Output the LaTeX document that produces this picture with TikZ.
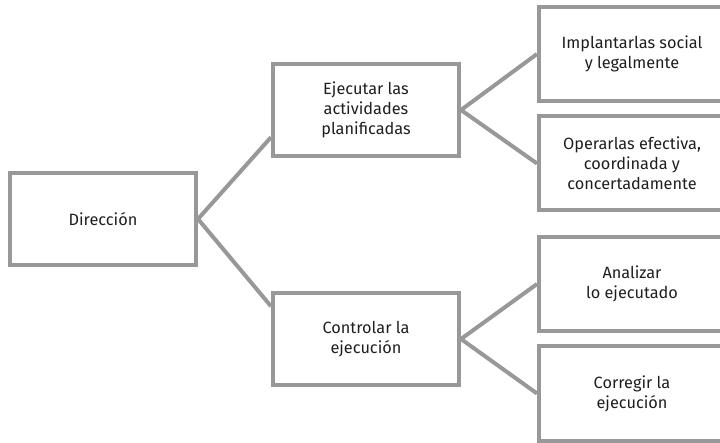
\documentclass[tikz,border=0pt]{standalone}
\usepackage{fontspec}
\setmainfont{Fira Sans}
\definecolor{boxgray}{RGB}{152,152,154}
\definecolor{txtgray}{RGB}{30,30,30}
\tikzset{
  box/.style={draw=boxgray, line width=4pt, minimum width=186pt, minimum height=92pt,
    align=center, text=txtgray, font=\fontsize{16.3}{20}\selectfont},
  leaf/.style={box, minimum height=94pt},
  link/.style={draw=boxgray, line width=4pt}
}
\begin{document}
\begin{tikzpicture}[x=1pt, y=-1pt]
		\useasboundingbox (0,0) rectangle (720,443);
		\clip (0,0) rectangle (720,443);
		\node[box] (D) at (103,219) {Dirección};
		\node[box] (E) at (366,110) {Ejecutar las\\actividades\\planificadas};
		\node[box] (C) at (366,339) {Controlar la\\ejecución};
		\node[leaf] (I) at (632,54) {Implantarlas social\\y legalmente};
		\node[leaf] (O) at (632,163.5) {Operarlas efectiva,\\coordinada y\\concertadamente};
		\node[leaf] (A) at (632,284) {Analizar\\lo ejecutado};
		\node[leaf] (R) at (632,393.5) {Corregir la\\ejecución};
		
		\path [link] (D.east) edge (E.196);
		\path [link] (D.east) edge (C.161);
		\path [link] (E.east) edge (I.west);
		\path [link] (E.east) edge (O.west);
		\path [link] (C.east) edge (A.west);
		\path [link] (C.east) edge (R.west);
		\end{tikzpicture}
\end{document}
